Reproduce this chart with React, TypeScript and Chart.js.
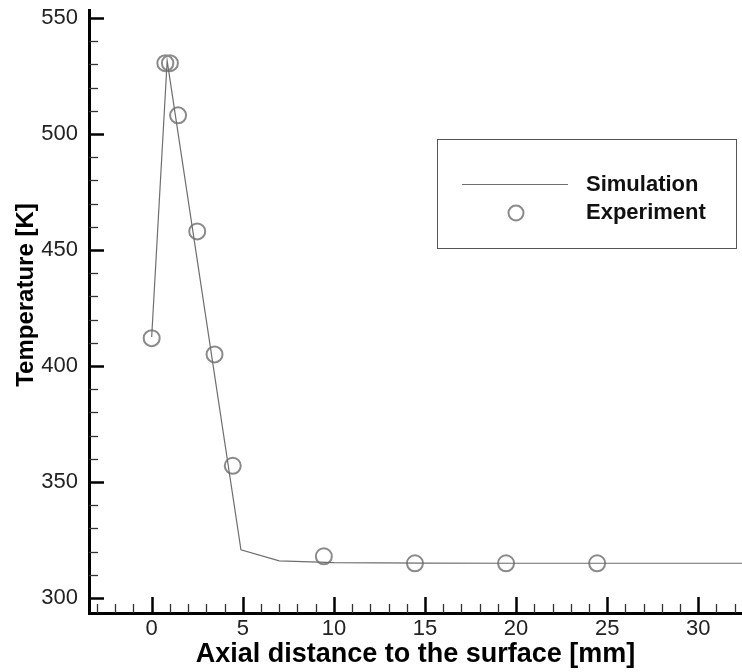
import React, { useEffect, useRef } from "react";
import { Chart, registerables } from "chart.js";

Chart.register(...registerables);

// ---- data ----
const simX = [0, 0.85, 4.9, 7.0, 10, 15, 20, 25, 33];
const simY = [412.5, 531.5, 320.8, 316.0, 315.3, 315.1, 315.0, 315.0, 315.0];
const expX = [0, 0.75, 1.0, 1.45, 2.5, 3.45, 4.45, 9.45, 14.45, 19.45, 24.45];
const expY = [412, 530.5, 530.5, 508, 458, 405, 357, 318, 315, 315, 315];
const xTicks = [0, 5, 10, 15, 20, 25, 30];
const yTicks = [300, 350, 400, 450, 500, 550];
const seriesLabels = ["Simulation", "Experiment"];
const xTitle = "Axial distance to the surface [mm]";
const yTitle = "Temperature [K]";

const FONT = "'Liberation Sans', Arial, Helvetica, sans-serif";
const LINE_COLOR = "#6e6e6e";
const MARK_COLOR = "#8a8a8a";

// keep the plot area running to the right edge of the canvas
const fullRight = {
  id: "fullRight",
  afterLayout(chart: any) {
    const xs = chart.scales.x;
    const right = chart.width;
    chart.chartArea.right = right;
    chart.chartArea.width = right - chart.chartArea.left;
    xs.right = right;
    xs.width = right - xs.left;
    xs.configure();
  },
};

const innerTicks = {
  id: "innerTicks",
  afterDraw(chart: any) {
    const { ctx, chartArea } = chart;
    const xs = chart.scales.x;
    const ys = chart.scales.y;
    ctx.save();
    for (let v = Math.ceil(xs.min); v <= Math.floor(xs.max); v++) {
      const px = Math.round(xs.getPixelForValue(v)) + 0.5;
      const major = v % 5 === 0;
      ctx.beginPath();
      ctx.lineWidth = major ? 2.5 : 1.3;
      ctx.strokeStyle = major ? "#000" : "#333";
      ctx.moveTo(px, chartArea.bottom);
      ctx.lineTo(px, chartArea.bottom - (major ? 16 : 9));
      ctx.stroke();
    }
    for (let v = Math.ceil(ys.min / 10) * 10; v <= ys.max; v += 10) {
      const py = Math.round(ys.getPixelForValue(v)) + 0.5;
      const major = v % 50 === 0;
      ctx.beginPath();
      ctx.lineWidth = major ? 2.5 : 1.3;
      ctx.strokeStyle = major ? "#000" : "#333";
      ctx.moveTo(chartArea.left, py);
      ctx.lineTo(chartArea.left + (major ? 15 : 9), py);
      ctx.stroke();
    }
    // y axis title
    ctx.translate(26, 295);
    ctx.rotate(-Math.PI / 2);
    ctx.fillStyle = "#000";
    ctx.font = `bold 24px ${FONT}`;
    ctx.textAlign = "center";
    ctx.textBaseline = "middle";
    ctx.fillText(yTitle, 0, 0);
    ctx.restore();
  },
};

const boxLegend = {
  id: "boxLegend",
  afterDraw(chart: any) {
    const { ctx } = chart;
    const ds = chart.data.datasets;
    ctx.save();
    ctx.strokeStyle = "#555";
    ctx.lineWidth = 1;
    ctx.strokeRect(437.5, 139.5, 299, 109);
    // simulation sample
    ctx.beginPath();
    ctx.strokeStyle = ds[0].borderColor;
    ctx.lineWidth = 1.2;
    ctx.moveTo(462, 184.5);
    ctx.lineTo(568, 184.5);
    ctx.stroke();
    // experiment sample
    ctx.beginPath();
    ctx.strokeStyle = ds[1].borderColor;
    ctx.lineWidth = 2;
    ctx.arc(516, 213, 7.5, 0, Math.PI * 2);
    ctx.stroke();
    ctx.fillStyle = "#111";
    ctx.font = `bold 22px ${FONT}`;
    ctx.textAlign = "left";
    ctx.textBaseline = "middle";
    ctx.fillText(ds[0].label, 586, 185);
    ctx.fillText(ds[1].label, 586, 213);
    ctx.restore();
  },
};

export default function App() {
  const ref = useRef<HTMLCanvasElement>(null);
  useEffect(() => {
    Chart.defaults.font.family = FONT;
    const chart = new Chart(ref.current!, {
      type: "scatter",
      data: {
        datasets: [
          {
            label: seriesLabels[0],
            data: simX.map((x, i) => ({ x, y: simY[i] })),
            showLine: true,
            borderColor: LINE_COLOR,
            borderWidth: 1.2,
            pointRadius: 0,
            fill: false,
            tension: 0,
          },
          {
            label: seriesLabels[1],
            data: expX.map((x, i) => ({ x, y: expY[i] })),
            showLine: false,
            borderColor: MARK_COLOR,
            backgroundColor: "rgba(0,0,0,0)",
            borderWidth: 2,
            pointRadius: 8,
            pointStyle: "circle",
          },
        ],
      },
      options: {
        animation: false,
        responsive: false,
        devicePixelRatio: 1,
        layout: { padding: { top: 7, left: 0, right: 0, bottom: 0 } },
        plugins: { legend: { display: false }, tooltip: { enabled: false } },
        scales: {
          x: {
            type: "linear",
            min: -3.44,
            max: 32.4,
            grid: { display: false, drawTicks: false, tickLength: 0 },
            border: { display: true, color: "#000", width: 3 },
            ticks: {
              font: { size: 22 },
              color: "#222",
              padding: 3,
              autoSkip: false,
              maxRotation: 0,
            },
            afterBuildTicks: (s: any) => {
              s.ticks = xTicks.map((v) => ({ value: v }));
            },
            afterFit: (s: any) => {
              s.height = 59;
              s.paddingLeft = 0;
              s.paddingRight = 0;
            },
            title: {
              display: true,
              text: xTitle,
              color: "#000",
              font: { size: 27, weight: "bold" },
              padding: { top: 0, bottom: 1 },
            },
          },
          y: {
            type: "linear",
            min: 293.57,
            max: 553.4,
            grid: { display: false, drawTicks: false, tickLength: 0 },
            border: { display: true, color: "#000", width: 3 },
            ticks: {
              font: { size: 22 },
              color: "#222",
              padding: 11,
              autoSkip: false,
            },
            afterBuildTicks: (s: any) => {
              s.ticks = yTicks.map((v) => ({ value: v }));
            },
            afterFit: (s: any) => {
              s.width = 89;
              s.paddingTop = 0;
              s.paddingBottom = 0;
            },
          },
        },
      },
      plugins: [fullRight, innerTicks, boxLegend],
    } as any);
    return () => chart.destroy();
  }, []);
  return (
    <div style={{ position: "fixed", left: 0, top: 0, width: 742, height: 672, background: "#fff" }}>
      <canvas ref={ref} width={742} height={672} style={{ width: 742, height: 672, display: "block" }} />
    </div>
  );
}
